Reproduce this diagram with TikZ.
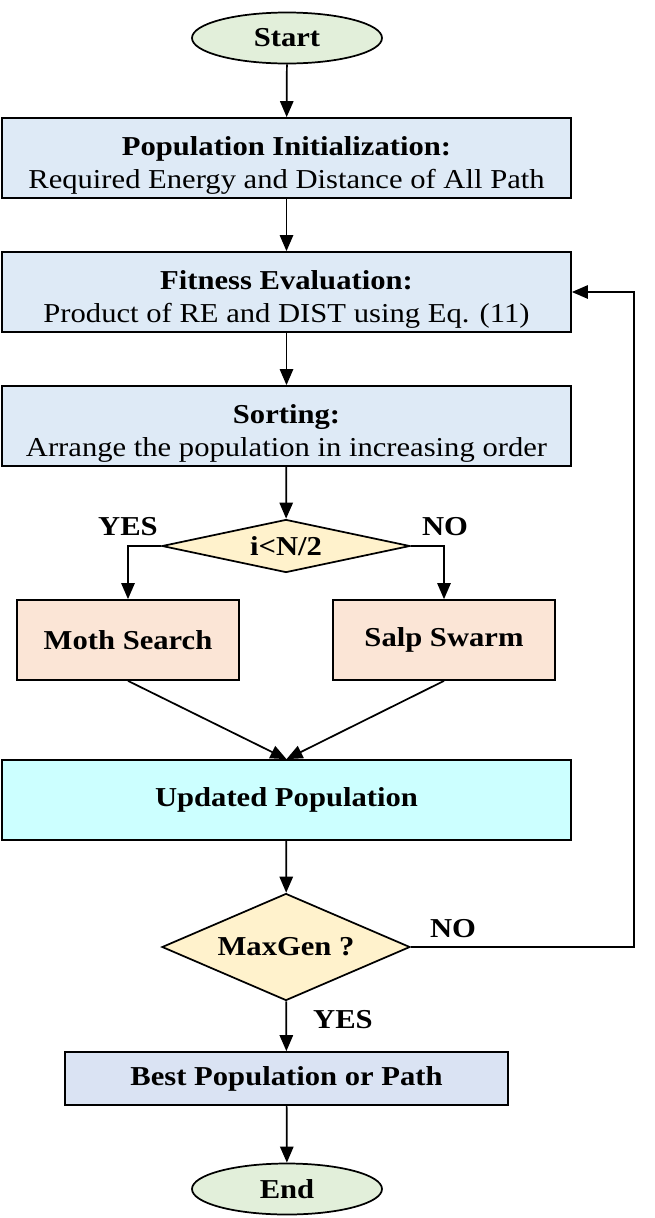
\documentclass[tikz,border=0pt]{standalone}
\usepackage{fontspec}
\setmainfont{Liberation Serif}[FakeStretch=1.12]
\usetikzlibrary{shapes.geometric,arrows.meta}
\definecolor{procblue}{HTML}{DEEAF6}
\definecolor{termgreen}{HTML}{E2EFDA}
\definecolor{decyellow}{HTML}{FFF2CC}
\definecolor{algpeach}{HTML}{FBE5D6}
\definecolor{updcyan}{HTML}{CCFFFF}
\definecolor{bestblue}{HTML}{DAE3F3}
\newcommand{\topgap}{\rule{0pt}{25pt}}
\tikzset{
  base/.style={draw=black, line width=1.3pt, inner sep=0pt, align=center,
    font=\fontsize{20.5}{25}\selectfont},
  procbox/.style={base, rectangle, fill=procblue, minimum width=569*0.75pt, minimum height=80*0.75pt},
  termnode/.style={base, ellipse, fill=termgreen, minimum width=190*0.75pt, minimum height=51*0.75pt, font=\fontsize{20.5}{25}\selectfont\bfseries},
  decnode/.style={base, diamond, fill=decyellow, font=\fontsize{20.5}{25}\selectfont\bfseries},
  algbox/.style={base, rectangle, fill=algpeach, minimum width=222*0.75pt, minimum height=80*0.75pt, font=\fontsize{20.5}{25}\selectfont\bfseries},
  lbl/.style={inner sep=0pt, font=\fontsize{20.5}{25}\selectfont\bfseries},
  conn/.style={line width=1.3pt, -{Triangle[length=12pt,width=10pt]}},
}
\begin{document}
\begin{tikzpicture}[x=0.75pt,y=-0.75pt]
\useasboundingbox (0,0) rectangle (655,1218);
\node[termnode] (start) at (287,38) {Start};
\node[procbox] (init) at (286.5,158) {\topgap\textbf{Population Initialization:}\\Required Energy and Distance of All Path};
\node[procbox] (fit) at (286.5,292) {\topgap\textbf{Fitness Evaluation:}\\Product of RE and DIST using Eq. (11)};
\node[procbox] (sort) at (286.5,426) {\topgap\textbf{Sorting:}\\Arrange the population in increasing order};
\node[decnode, aspect=4, minimum width=248*0.75pt, minimum height=53*0.75pt] (d1) at (286,546) {i<N/2};
\node[algbox] (moth) at (128,640) {Moth Search};
\node[algbox] (salp) at (444,640) {Salp Swarm};
\node[procbox, fill=updcyan, font=\fontsize{20.5}{25}\selectfont\bfseries] (upd) at (286.5,800) {Updated Population};
\node[decnode, aspect=2.3, minimum width=248*0.75pt, minimum height=107*0.75pt] (d2) at (286,947) {MaxGen ?};
\node[procbox, fill=bestblue, minimum width=443*0.75pt, minimum height=53*0.75pt, font=\fontsize{20.5}{25}\selectfont\bfseries] (best) at (286.5,1078.5) {Best Population or Path};
\node[termnode] (end) at (287,1189) {End};
\node[lbl] (yes1) at (128,527) {YES};
\node[lbl] (no1) at (445,527) {NO};
\node[lbl] (no2) at (453,929) {NO};
\node[lbl] (yes2) at (343,1020) {YES};
\coordinate (fb) at (634,947);
\draw[conn] (start) -- (init);
\draw[conn] (init) -- (fit);
\draw[conn] (fit) -- (sort);
\draw[conn] (sort) -- (d1);
\draw[conn] (d1.west) -| (moth.north);
\draw[conn] (d1.east) -| (salp.north);
\draw[conn] (moth.south) -- (upd.north);
\draw[conn] (salp.south) -- (upd.north);
\draw[conn] (upd) -- (d2);
\draw[conn] (d2.east) -- (fb) |- (fit.east);
\draw[conn] (d2) -- (best);
\draw[conn] (best) -- (end);
\end{tikzpicture}
\end{document}
